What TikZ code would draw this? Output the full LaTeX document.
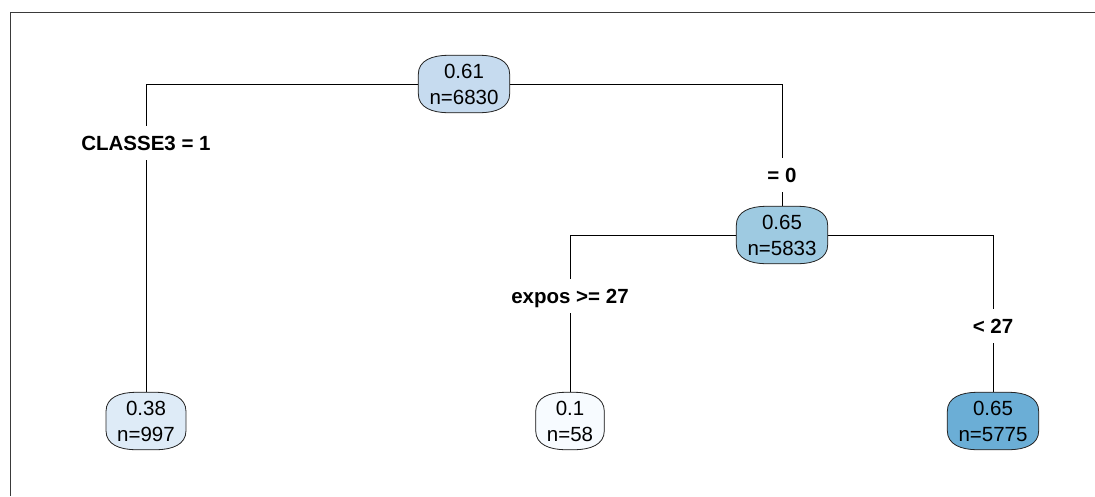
\documentclass[tikz,border=0pt]{standalone}
\usepackage{fontspec}
\setmainfont{Liberation Sans}
\usetikzlibrary{backgrounds,calc}
\definecolor{c1}{HTML}{C6DBEF}
\definecolor{c2}{HTML}{9ECAE1}
\definecolor{c3}{HTML}{DEEBF7}
\definecolor{c4}{HTML}{F7FBFF}
\definecolor{c5}{HTML}{6BAED6}
\definecolor{framec}{HTML}{3A3A3A}
\tikzset{
  treenode/.style={draw=none, minimum height=57pt, inner xsep=11pt, inner ysep=0pt,
    align=center, font=\fontsize{20.5}{26}\selectfont},
  splitlab/.style={font=\bfseries\fontsize{20.5}{24}\selectfont, inner xsep=2pt,
    text height=15pt, text depth=0pt, inner ysep=9.5pt},
  edge/.style={line width=0.8pt, black},
  barrelline/.style={draw=black!85, line width=0.8pt}
}
\newcommand\barrelpath[1]{%
  let \p1=(#1.north west), \p2=(#1.south east) in
  (\x1,\y1-19pt) .. controls (\x1,\y1-5pt) and (\x1+14pt,\y1) .. (\x1+30pt,\y1)
  -- (\x2-30pt,\y1) .. controls (\x2-14pt,\y1) and (\x2,\y1-5pt) .. (\x2,\y1-19pt)
  -- (\x2,\y2+19pt) .. controls (\x2,\y2+5pt) and (\x2-14pt,\y2) .. (\x2-30pt,\y2)
  -- (\x1+30pt,\y2) .. controls (\x1+14pt,\y2) and (\x1,\y2+5pt) .. (\x1,\y2+19pt)
  -- cycle}
\newcommand\drawbarrel[2]{%
  \path[fill=black!80, yshift=-1.8pt] \barrelpath{#1};
  \path[fill=#2, barrelline] \barrelpath{#1};}
\begin{document}
\begin{tikzpicture}[x=1pt,y=-1pt]
\useasboundingbox (0,0) rectangle (1095,496);
\draw[framec, line width=1.3pt] (10.5,496) -- (10.5,12.5) -- (1095,12.5);

% nodes
\node[treenode] (root) at (464,84) {0.61\\n=6830};
\node[treenode] (mid) at (782,235) {0.65\\n=5833};
\node[treenode] (l1) at (146,421) {0.38\\n=997};
\node[treenode] (l2) at (570,421) {0.1\\n=58};
\node[treenode] (l3) at (993,421) {0.65\\n=5775};

\begin{scope}[on background layer]
  \drawbarrel{root}{c1}
  \drawbarrel{mid}{c2}
  \drawbarrel{l1}{c3}
  \drawbarrel{l2}{c4}
  \drawbarrel{l3}{c5}
\end{scope}

% split labels
\node[splitlab] (s1) at (146,143) {CLASSE3 = 1};
\node[splitlab] (s2) at (782,175) {= 0};
\node[splitlab] (s3) at (570,296) {expos >= 27};
\node[splitlab] (s4) at (993,326) {< 27};

% connectors
\draw[edge] (root.west) -| (s1.north);
\draw[edge] (s1.south) -- (l1.north);
\draw[edge] (root.east) -| (s2.north);
\draw[edge] (s2.south) -- (mid.north);
\draw[edge] (mid.west) -| (s3.north);
\draw[edge] (s3.south) -- (l2.north);
\draw[edge] (mid.east) -| (s4.north);
\draw[edge] (s4.south) -- (l3.north);
\end{tikzpicture}
\end{document}
